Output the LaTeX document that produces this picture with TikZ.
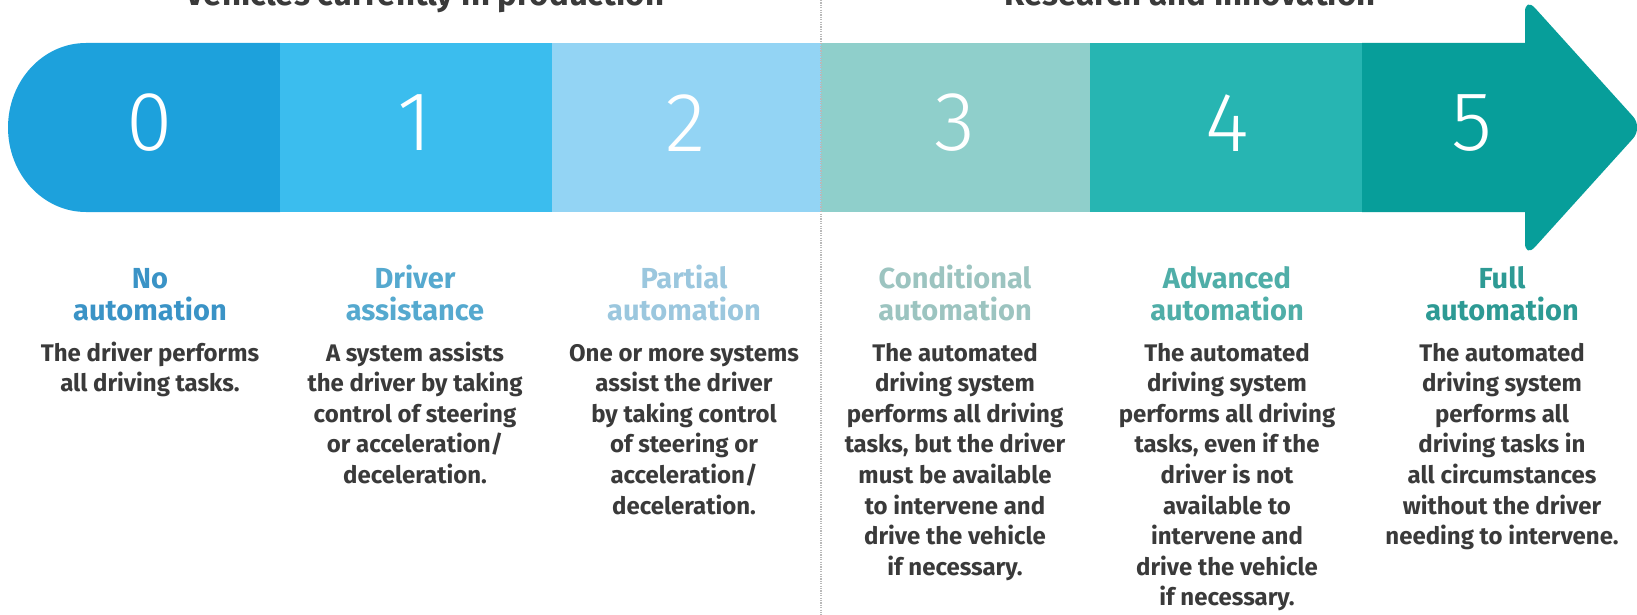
\documentclass[tikz,border=0pt]{standalone}
\usepackage{fontspec}
\setmainfont{Fira Sans}
\newfontfamily\digitfont{Fira Sans Light}
\definecolor{lvlzero}{HTML}{1DA1DC}
\definecolor{lvlone}{HTML}{3BBDEE}
\definecolor{lvltwo}{HTML}{93D4F4}
\definecolor{lvlthree}{HTML}{8FCFCB}
\definecolor{lvlfour}{HTML}{27B5B2}
\definecolor{lvlfive}{HTML}{079E9A}
\definecolor{ttlzero}{HTML}{3A93C6}
\definecolor{ttlone}{HTML}{55A9CF}
\definecolor{ttltwo}{HTML}{9BC7DE}
\definecolor{ttlthree}{HTML}{9CC4C0}
\definecolor{ttlfour}{HTML}{4FAEA8}
\definecolor{ttlfive}{HTML}{2D9A94}
\definecolor{bodygray}{HTML}{3A3A3A}
\begin{document}
\begin{tikzpicture}[x=1pt,y=-1pt,
    digit/.style={text=white,inner sep=0pt,font=\digitfont\fontsize{84}{84}\selectfont},
    levelname/.style={inner sep=0pt,anchor=base,align=center,font=\bfseries\fontsize{29}{32}\selectfont},
    levelinfo/.style={inner sep=0pt,anchor=base,align=center,text=bodygray,font=\bfseries\fontsize{24}{30.6}\selectfont},
    heading/.style={inner sep=0pt,anchor=base,text=bodygray,font=\bfseries\fontsize{33}{34}\selectfont}]
    \clip (0,0) rectangle (1637,615);
    % the bar
    \fill[lvlzero] (280,43) -- (86,43) arc[start angle=270,end angle=90,x radius=78,y radius=84.5] -- (280,212) -- cycle;
    \fill[lvlone] (280,43) rectangle (552,212);
    \fill[lvltwo] (552,43) rectangle (821,212);
    \fill[lvlthree] (821,43) rectangle (1090,212);
    \fill[lvlfour] (1090,43) rectangle (1362,212);
    \fill[lvlfive] (1362,43) -- (1525,43) -- (1525,25) [rounded corners=15pt] -- (1525,-3) -- (1643,127.5) -- (1525,258) -- (1525,230) [sharp corners] -- (1525,212) -- (1362,212) -- cycle;
    % divider
    \draw[gray!55, line width=1.5pt, dash pattern=on 1.2pt off 1.2pt] (821,0) -- (821,615);
    % headings
    \node[heading] (hprod) at (425,6) {Vehicles currently in production};
    \node[heading] (hres) at (1190,6) {Research and innovation};
    % digits
    \node[digit] (d0) at (150,123) {0};
    \node[digit] (d1) at (415,123) {1};
    \node[digit] (d2) at (686,123) {2};
    \node[digit] (d3) at (955,123) {3};
    \node[digit] (d4) at (1227,123) {4};
    \node[digit] (d5) at (1472,123) {5};
    % level names (base = last line)
    \node[levelname,text=ttlzero] (t0) at (150,320) {No\\automation};
    \node[levelname,text=ttlone] (t1) at (415,320) {Driver\\assistance};
    \node[levelname,text=ttltwo] (t2) at (684,320) {Partial\\automation};
    \node[levelname,text=ttlthree] (t3) at (955,320) {Conditional\\automation};
    \node[levelname,text=ttlfour] (t4) at (1227,320) {Advanced\\automation};
    \node[levelname,text=ttlfive] (t5) at (1502,320) {Full\\automation};
    % descriptions (base = last line)
    \node[levelinfo] (b0) at (150,391.6) {The driver performs\\all driving tasks.};
    \node[levelinfo] (b1) at (415,483.4) {A system assists\\the driver by taking\\control of steering\\or acceleration/\\deceleration.};
    \node[levelinfo] (b2) at (684,514) {One or more systems\\assist the driver\\by taking control\\of steering or\\acceleration/\\deceleration.};
    \node[levelinfo] (b3) at (955,575.2) {The automated\\driving system\\performs all driving\\tasks, but the driver\\must be available\\to intervene and\\drive the vehicle\\if necessary.};
    \node[levelinfo] (b4) at (1227,605.8) {The automated\\driving system\\performs all driving\\tasks, even if the\\driver is not\\available to\\intervene and\\drive the vehicle\\if necessary.};
    \node[levelinfo] (b5) at (1502,544.6) {The automated\\driving system\\performs all\\driving tasks in\\all circumstances\\without the driver\\needing to intervene.};
\end{tikzpicture}
\end{document}
